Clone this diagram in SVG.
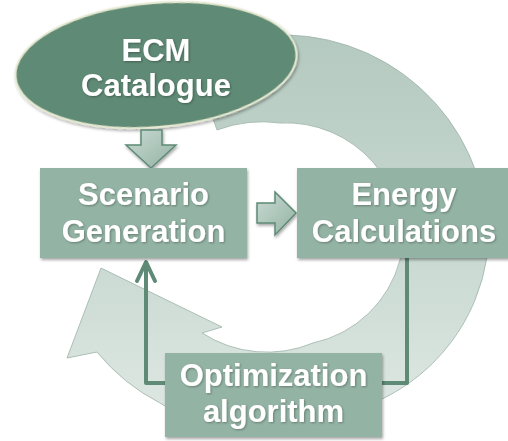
<svg xmlns="http://www.w3.org/2000/svg" width="508" height="441" viewBox="0 0 508 441">
  <defs>
    <linearGradient id="ringGrad" x1="0" y1="0" x2="0" y2="1">
      <stop offset="0" stop-color="#b4c9bf"/>
      <stop offset="0.55" stop-color="#c9d9d2"/>
      <stop offset="1" stop-color="#e1e9e5"/>
    </linearGradient>
    <linearGradient id="blockGrad" x1="0" y1="0" x2="1" y2="1">
      <stop offset="0" stop-color="#c9dad2"/>
      <stop offset="1" stop-color="#93b3a4"/>
    </linearGradient>
    <filter id="shadow" x="-10%" y="-10%" width="125%" height="130%">
      <feDropShadow dx="1" dy="2" stdDeviation="1.8" flood-color="#000" flood-opacity="0.35"/>
    </filter>
    <filter id="tshadow" x="-5%" y="-10%" width="110%" height="130%">
      <feDropShadow dx="1" dy="1" stdDeviation="0.8" flood-color="#000" flood-opacity="0.3"/>
    </filter>
    <marker id="chev" viewBox="0 0 10 10" refX="5" refY="1" markerWidth="5" markerHeight="5" orient="auto-start-reverse" markerUnits="userSpaceOnUse"/>
  </defs>
  <style>
    .box { fill: #93b3a4; filter: url(#shadow); }
    .lbl { font-family: "Liberation Sans", Arial, sans-serif; font-weight: bold; font-size: 31px; fill: #ffffff; text-anchor: middle; filter: url(#tshadow); }
    .conn { fill: none; stroke: #5e8a76; stroke-width: 4; stroke-linejoin: round; }
    .block { fill: url(#blockGrad); stroke: #5e8a76; stroke-width: 1.5; stroke-linejoin: miter; filter: url(#shadow); }
  </style>
  <rect width="508" height="441" fill="#ffffff"/>

  <g id="cycle-arrow">
    <path d="M 190,55 A 200,200 0 0 1 287,35 A 205,205 0 0 1 487,257 A 190,190 0 0 1 380,400 A 200,200 0 0 1 160,403 A 200,200 0 0 1 97,352 L 67,358 L 101,268 L 222,327 L 202,333 A 120,120 0 0 0 313,343 A 115,115 0 0 0 400,260 A 116,116 0 0 0 280,123 A 130,130 0 0 0 217,130 Z" fill="url(#ringGrad)" stroke="#9cb3a8" stroke-width="0.8"/>
  </g>

  <g id="node-ecm">
    <ellipse cx="156" cy="65" rx="141" ry="62" transform="rotate(-5 156 65)" fill="#5f8a75" stroke="#e6ead2" stroke-width="2" filter="url(#shadow)"/>
    <text class="lbl" x="156" y="61">ECM</text>
    <text class="lbl" x="156" y="96">Catalogue</text>
  </g>

  <g id="connectors">
    <polygon class="block" points="141,130 162,130 162,145 176,145 151,168 126,145 141,145"/>
    <polygon class="block" points="257,203 275,203 275,192 296,213 275,235 275,223 257,223"/>
    <polyline class="conn" points="407,258 407,383 380,383"/>
    <polyline class="conn" points="168,383 146,383 146,262"/>
    <polyline class="conn" points="137,281 146,262 155,281" stroke-linecap="round"/>
  </g>

  <g id="node-scenario">
    <rect class="box" x="40" y="168" width="207" height="90"/>
    <text class="lbl" x="143.5" y="205">Scenario</text>
    <text class="lbl" x="143.5" y="242">Generation</text>
  </g>

  <g id="node-energy">
    <rect class="box" x="297" y="168" width="212" height="90"/>
    <text class="lbl" x="404" y="205">Energy</text>
    <text class="lbl" x="404" y="242">Calculations</text>
  </g>

  <g id="node-optimization">
    <rect class="box" x="165" y="353" width="217" height="84"/>
    <text class="lbl" x="273.5" y="386">Optimization</text>
    <text class="lbl" x="273.5" y="422">algorithm</text>
  </g>
</svg>
